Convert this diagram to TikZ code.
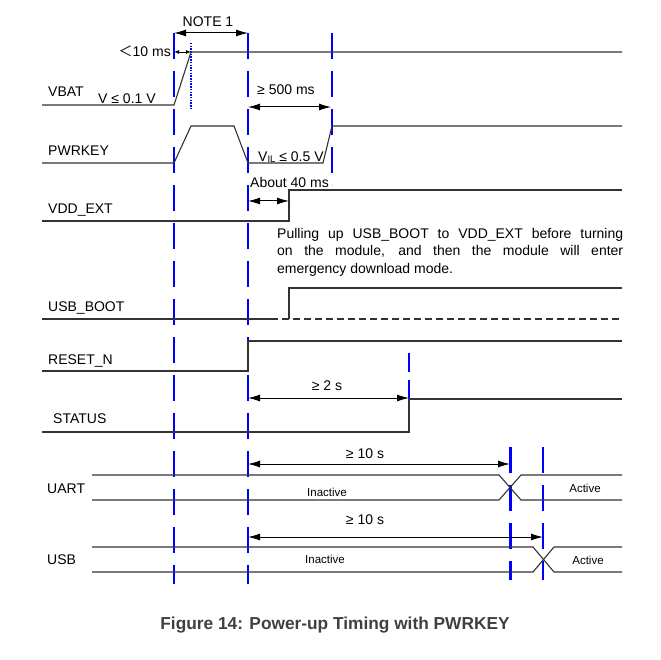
\documentclass[tikz,border=0pt]{standalone}
\usepackage{fontspec}
\setmainfont{Liberation Sans}
\newfontfamily\cjk{Noto Sans CJK SC}
\usetikzlibrary{arrows.meta}

\tikzset{
  sig/.style={line width=1.1pt,black!80},
  marker/.style={blue,line width=2pt,dash pattern=on 26pt off 12pt},
  lbl/.style={font=\fontsize{14}{17.5}\selectfont,inner sep=0pt,anchor=base west},
  small/.style={font=\fontsize{11.5}{14}\selectfont,inner sep=0pt,anchor=base},
  dim/.style={line width=1pt,{Latex[length=12pt,width=7pt]}-{Latex[length=12pt,width=7pt]}},
}

\begin{document}
\begin{tikzpicture}[x=1pt,y=-1pt]
\useasboundingbox (0,0) rectangle (660,660);

% blue time markers
\draw[marker] (174,33) -- (174,584);
\draw[marker] (248,33) -- (248,584);
\draw[marker] (332,33) -- (332,185);
\draw[blue,line width=1.6pt,dash pattern=on 1.5pt off 1.2pt] (191,43) -- (191,108);
\draw[blue,line width=2pt,dash pattern=on 19pt off 8pt] (409,353) -- (409,432);
\draw[marker,line width=3pt] (510,447) -- (510,580);
\draw[marker] (543,447) -- (543,580);

% signal names
\node[lbl] (vbat)   at (48,97)  {VBAT};
\node[lbl] (pwrkey) at (48,156) {PWRKEY};
\node[lbl] (vddext) at (48,214) {VDD\_EXT};
\node[lbl] (usbboot) at (48,311) {USB\_BOOT};
\node[lbl] (resetn) at (48,364) {RESET\_N};
\node[lbl] (status) at (53,423) {STATUS};
\node[lbl] (uart)   at (47,493) {UART};
\node[lbl] (usb)    at (47,564) {USB};

% waveforms
\draw[sig] (42,105) -- (174,105) -- (191,52) -- (622,52);
\draw[sig] (42,163) -- (174,163) -- (191,126) -- (234,126) -- (248,163)
  -- (323,163) -- (332,126) -- (622,126);
\draw[sig] (42,221) -- (289,221) -- (289,190) -- (622,190);
\draw[sig] (42,319) -- (278,319);
\draw[sig,dash pattern=on 7pt off 4pt] (282,319) -- (622,319);
\draw[sig] (289,319) -- (289,288) -- (622,288);
\draw[sig] (42,371) -- (248,371) -- (248,341) -- (622,341);
\draw[sig] (42,432) -- (409,432) -- (409,399) -- (622,399);
\draw[sig] (92,475) -- (499,475) -- (521,500) -- (622,500);
\draw[sig] (92,500) -- (499,500) -- (521,475) -- (622,475);
\draw[sig] (92,547) -- (533,547) -- (554,572) -- (622,572);
\draw[sig] (92,572) -- (533,572) -- (554,547) -- (622,547);

% timing labels
\draw[dim] (174,33) -- (248,33);
\node[lbl,anchor=base] (note) at (208,27) {NOTE 1};
\draw[line width=0.9pt,{Latex[length=5pt,width=4pt]}-{Latex[length=5pt,width=4pt]}] (174,52) -- (191,52);
\node[lbl,anchor=base east] (tvbat) at (171,57) {{\cjk ＜}10 ms};
\node[lbl] (vlow) at (98,104) {V ≤ 0.1 V};
\draw[dim] (248,107) -- (331,107);
\node[lbl] (t500) at (257,95) {≥ 500 ms};
\node[lbl] (vil) at (258,162) {V\raisebox{-0.5pt}{\fontsize{9.5}{10}\selectfont IL} ≤ 0.5 V};
\draw[dim] (248,201) -- (289,201);
\node[lbl] (t40) at (250,188) {About 40 ms};
\node[lbl,anchor=north west,text width=346pt,align=justify] (note2) at (277,228)
  {Pulling up USB\_BOOT to VDD\_EXT before turning\linebreak on the module, and then the module will enter\linebreak emergency download mode.};
\draw[dim] (248,398) -- (409,398);
\node[lbl,anchor=base] (t2s) at (327,390) {≥ 2 s};
\draw[dim] (248,464) -- (510,464);
\node[lbl,anchor=base] (t10a) at (365,458) {≥ 10 s};
\draw[dim] (248,537) -- (543,537);
\node[lbl,anchor=base] (t10b) at (365,524) {≥ 10 s};
\node[small] (ina) at (327,496) {Inactive};
\node[small] (aca) at (585,492) {Active};
\node[small] (inb) at (325,563) {Inactive};
\node[small] (acb) at (588,564) {Active};

% caption
\node[anchor=base,inner sep=0pt,text=black!75,font=\bfseries\fontsize{17.3}{20}\selectfont] (cap) at (335,629)
  {Figure 14: Power-up Timing with PWRKEY};
\end{tikzpicture}
\end{document}
